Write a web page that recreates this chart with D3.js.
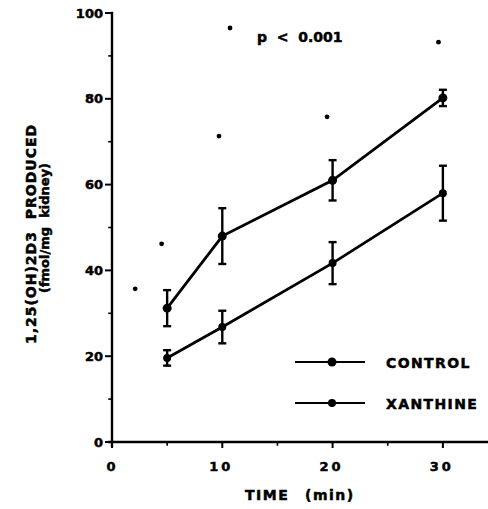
<!DOCTYPE html>
<html><head><meta charset="utf-8">
<script src="https://cdn.jsdelivr.net/npm/d3@7"></script>
<style>body{margin:0;background:#fff}svg{display:block}text{font-family:"DejaVu Sans",Arial,sans-serif;font-weight:bold;fill:#000;stroke:#000;stroke-width:0.5px}</style>
</head><body><svg id="c" width="488" height="509"></svg>
<script>
const times = [5, 10, 20, 30];
const controlMean = [31.2, 48, 61, 80.2];
const controlErr = [4.2, 6.5, 4.7, 1.9];
const xanthineMean = [19.6, 26.8, 41.7, 58];
const xanthineErr = [1.8, 3.8, 4.9, 6.4];
const seriesNames = ["CONTROL", "XANTHINE"];
const xTicks = [0, 10, 20, 30];
const xMinorTicks = [5, 15, 25];
const yTicks = [0, 20, 40, 60, 80, 100];
const yMinorTicks = [10, 30, 50, 70, 90];
const dotsX = [2.1, 4.5, 9.7, 10.7, 19.5, 29.6];
const dotsY = [35.7, 46.2, 71.3, 96.5, 75.8, 93.2];
const pText = "p  <  0.001";

const svg = d3.select("#c");
const x = d3.scaleLinear().domain([0, 34]).range([112, 487]);
const y = d3.scaleLinear().domain([0, 100]).range([442, 13]);

function ln(x1, y1, x2, y2, w) {
  return svg.append("line").attr("x1", x1).attr("y1", y1).attr("x2", x2).attr("y2", y2)
    .attr("stroke", "#000").attr("stroke-width", w).attr("stroke-linecap", "square");
}

// y axis
ln(x(0), y(100), x(0), y(0) + 4, 2.4);
yTicks.forEach(v => ln(x(0) - 6, y(v), x(0), y(v), 2));
yMinorTicks.forEach(v => ln(x(0) - 3, y(v), x(0), y(v), 1.6));
svg.append("g").selectAll("text").data(yTicks).join("text")
  .attr("x", x(0) - 9).attr("y", d => y(d)).attr("dy", "0.36em").attr("text-anchor", "end")
  .style("font-size", "13px").text(d => d);

// x axis
ln(x(0) - 3, y(0), 487, y(0), 2.4);
xTicks.forEach(v => ln(x(v), y(0), x(v), y(0) + 5, 2));
xMinorTicks.forEach(v => ln(x(v), y(0), x(v), y(0) + 3, 1.6));
svg.append("g").selectAll("text").data(xTicks).join("text")
  .attr("x", d => x(d) - (d ? 1 : 1)).attr("y", 471).attr("text-anchor", "middle")
  .style("font-size", "13px").style("letter-spacing", d => d ? "3px" : "0px").text(d => d);

// axis titles
svg.append("text").attr("x", 245).attr("y", 500).style("font-size", "14px").style("letter-spacing", "1.5px").text("TIME");
svg.append("text").attr("x", 305).attr("y", 500).style("font-size", "14px").style("letter-spacing", "1.5px").text("(min)");
svg.append("text").attr("transform", "translate(36,234) rotate(-90)").attr("text-anchor", "middle")
  .style("font-size", "14px").style("letter-spacing", "1px").attr("xml:space","preserve").text("1,25(OH)2D3  PRODUCED");
svg.append("text").attr("transform", "translate(49,228) rotate(-90)").attr("text-anchor", "middle")
  .style("font-size", "13px").attr("xml:space","preserve").text("(fmol/mg  kidney)");

// series
const series = [
  {name: seriesNames[0], m: controlMean, e: controlErr, r: 4.5},
  {name: seriesNames[1], m: xanthineMean, e: xanthineErr, r: 4}
];
const line = d3.line().x(d => x(d[0])).y(d => y(d[1]));
series.forEach(s => {
  const pts = times.map((t, i) => [t, s.m[i], s.e[i]]);
  svg.append("path").attr("d", line(pts)).attr("fill", "none").attr("stroke", "#000").attr("stroke-width", 2.8);
  pts.forEach(p => {
    const cx = x(p[0]);
    ln(cx, y(p[1] + p[2]), cx, y(p[1] - p[2]), 2.4).attr("stroke-linecap", "butt");
    [p[1] + p[2], p[1] - p[2]].forEach(v => ln(cx - 4, y(v), cx + 4, y(v), 2.4).attr("stroke-linecap", "butt"));
    svg.append("circle").attr("cx", cx).attr("cy", y(p[1])).attr("r", s.r).attr("fill", "#000");
  });
});

// significance dots
svg.append("g").selectAll("circle").data(dotsX.map((d, i) => [d, dotsY[i]])).join("circle")
  .attr("cx", d => x(d[0])).attr("cy", d => y(d[1])).attr("r", 2.4).attr("fill", "#000");

svg.append("text").attr("x", 257).attr("y", 42).style("font-size", "14px").attr("xml:space","preserve").text(pText);

// legend
const legY = [362, 403];
series.forEach((s, i) => {
  ln(295, legY[i], 365, legY[i], 2.2).attr("stroke-linecap", "butt");
  svg.append("circle").attr("cx", 332).attr("cy", legY[i]).attr("r", s.r).attr("fill", "#000");
  svg.append("text").attr("x", 386).attr("y", legY[i] + 6).style("font-size", "14px").style("letter-spacing", "1.4px").text(s.name);
});
</script></body></html>
